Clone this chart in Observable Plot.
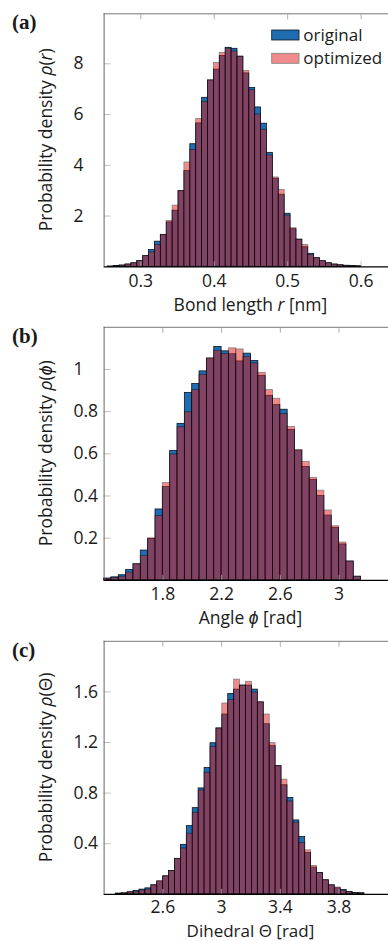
<!DOCTYPE html>
<html>
<head>
<meta charset="utf-8">
<script src="https://cdn.jsdelivr.net/npm/d3@7"></script>
<script src="https://cdn.jsdelivr.net/npm/@observablehq/plot@0.6"></script>
<style>
  html, body { margin: 0; padding: 0; background: #fff; }
  #wrap { width: 388px; overflow: hidden; }
  #wrap svg { display: block; overflow: hidden; }
</style>
</head>
<body>
<div id="wrap"></div>
<script>
// ---------- data ----------
// (a) bond length histogram
const aBinStart = 0.255, aBinWidth = 0.00803;
const aOriginal  = [0.01,0.03,0.05,0.09,0.14,0.23,0.42,0.66,0.99,1.25,1.75,2.21,2.98,3.77,4.83,5.65,6.66,7.34,7.77,8.31,8.63,8.59,8.28,7.62,7.05,6.28,5.64,4.49,3.47,2.84,2.09,1.48,1.07,0.77,0.51,0.34,0.22,0.14,0.09,0.06,0.04,0.03,0.02];
const aOptimized = [0.01,0.03,0.05,0.09,0.14,0.23,0.42,0.57,0.86,1.26,1.81,2.41,2.99,4.11,4.60,5.82,6.50,7.35,8.03,8.43,8.60,8.49,8.28,7.72,6.96,6.00,5.40,4.39,3.52,3.03,2.02,1.52,1.07,0.86,0.47,0.34,0.22,0.14,0.09,0.06,0.04,0.03,0.02];
const aXTicks = [0.3, 0.4, 0.5, 0.6];
const aYTicks = [2, 4, 6, 8];

// (b) angle histogram
const bBinStart = 1.40, bBinWidth = 0.05;
const bOriginal  = [0.008,0.014,0.024,0.049,0.076,0.141,0.196,0.336,0.442,0.613,0.742,0.889,0.931,0.991,1.051,1.107,1.086,1.072,1.038,1.075,1.040,0.970,0.875,0.831,0.809,0.713,0.615,0.537,0.476,0.400,0.307,0.249,0.170,0.089,0.017];
const bOptimized = [0.008,0.011,0.017,0.037,0.076,0.116,0.199,0.305,0.461,0.597,0.726,0.797,0.902,0.975,1.053,1.089,1.073,1.100,1.095,1.060,1.029,0.984,0.902,0.861,0.788,0.727,0.617,0.562,0.486,0.425,0.331,0.256,0.179,0.089,0.017];
const bXTicks = [1.8, 2.2, 2.6, 3];
const bYTicks = [0.2, 0.4, 0.6, 0.8, 1];

// (c) dihedral histogram
const cBinStart = 2.2798, cBinWidth = 0.0403;
const cOriginal  = [0.005,0.007,0.016,0.026,0.037,0.047,0.071,0.100,0.142,0.184,0.280,0.391,0.539,0.681,0.837,0.998,1.194,1.311,1.421,1.584,1.618,1.650,1.650,1.618,1.517,1.344,1.171,1.013,0.862,0.761,0.584,0.453,0.326,0.211,0.168,0.111,0.071,0.047,0.034,0.018,0.011,0.008];
const cOptimized = [0.005,0.010,0.016,0.020,0.030,0.037,0.071,0.105,0.142,0.184,0.280,0.363,0.479,0.645,0.821,0.961,1.166,1.311,1.508,1.536,1.697,1.650,1.680,1.595,1.517,1.421,1.195,1.013,0.906,0.734,0.566,0.405,0.347,0.224,0.168,0.111,0.071,0.053,0.029,0.018,0.011,0.008];
const cXTicks = [2.6, 3, 3.4, 3.8];
const cYTicks = [0.4, 0.8, 1.2, 1.6];

const seriesNames = ["original", "optimized"];

// ---------- style ----------
const FONT = "'Open Sans', sans-serif";
const FS = 17.5;
const BLUE = "#1f6db0";
const RED = "#e31a1a";
const TICK = "#b0b0b0";
const TEXT = "#1a1a1a";

const panels = [
  { tag: "(a)", start: aBinStart, width: aBinWidth, orig: aOriginal, opt: aOptimized,
    xDomain: [0.25, 0.65], yDomain: [0, 9.97], xTicks: aXTicks, yTicks: aYTicks,
    xLabel: [["Bond length ", "normal"], ["r", "italic"], [" [nm]", "normal"]],
    yLabel: [["Probability density ", "normal"], ["ρ", "italic"], ["(", "normal"], ["r", "italic"], [")", "normal"]],
    legend: true, H: 320, MT: 13.3, MB: 53.7, labelDy: 44.5, labelFs: 17.5, tickPad: 7.5 },
  { tag: "(b)", start: bBinStart, width: bBinWidth, orig: bOriginal, opt: bOptimized,
    xDomain: [1.4, 3.4], yDomain: [0, 1.2], xTicks: bXTicks, yTicks: bYTicks,
    xLabel: [["Angle ", "normal"], ["ϕ", "italic"], [" [rad]", "normal"]],
    yLabel: [["Probability density ", "normal"], ["ρ", "italic"], ["(", "normal"], ["ϕ", "italic"], [")", "normal"]],
    legend: false, H: 313.5, MT: 6.8, MB: 53.7, labelDy: 44.5, labelFs: 17.5, tickPad: 7.5 },
  { tag: "(c)", start: cBinStart, width: cBinWidth, orig: cOriginal, opt: cOptimized,
    xDomain: [2.2, 4.2], yDomain: [0, 2.0], xTicks: cXTicks, yTicks: cYTicks,
    xLabel: [["Dihedral Θ [rad]", "normal"]],
    yLabel: [["Probability density ", "normal"], ["ρ", "italic"], ["(Θ)", "normal"]],
    legend: false, H: 307.5, MT: 6.8, MB: 47.7, labelDy: 43, labelFs: 17, tickPad: 6 }
];

const W = 388, ML = 103.6;
const XR = [103.6, 397.3];

function bins(values, start, width) {
  return values.map((h, i) => ({ x1: start + i * width, x2: start + (i + 1) * width, h }));
}

function addText(sel, parts) {
  parts.forEach(([t, st]) => sel.append("tspan").attr("font-style", st).text(t));
}

const wrap = document.getElementById("wrap");

panels.forEach(p => {
  const svg = Plot.plot({
    width: W, height: p.H,
    marginTop: p.MT, marginBottom: p.MB, marginLeft: ML, marginRight: 0,
    style: { fontFamily: FONT, fontSize: FS + "px", color: TEXT, background: "white", overflow: "hidden" },
    x: { domain: p.xDomain, range: XR },
    y: { domain: p.yDomain },
    marks: [
      Plot.rectY(bins(p.orig, p.start, p.width), { x1: "x1", x2: "x2", y: "h", fill: BLUE, stroke: "#0a1420", strokeWidth: 0.8 }),
      Plot.rectY(bins(p.opt, p.start, p.width), { x1: "x1", x2: "x2", y: "h", fill: RED, stroke: "#000", strokeWidth: 0.8, opacity: 0.5 }),
      // inward tick marks
      Plot.axisX(p.xTicks, { anchor: "bottom", tickSize: -5, fill: "none", stroke: TICK, strokeOpacity: 0.8, label: null }),
      Plot.axisX(p.xTicks, { anchor: "top", tickSize: -5, fill: "none", stroke: TICK, label: null }),
      Plot.axisY(p.yTicks, { anchor: "left", tickSize: -7, fill: "none", stroke: TICK, strokeOpacity: 0.8, label: null }),
      // tick labels
      Plot.axisX(p.xTicks, { anchor: "bottom", tickSize: 0, tickPadding: p.tickPad, stroke: "none", fill: TEXT, tickFormat: d => String(d), fontSize: FS, label: null }),
      Plot.axisY(p.yTicks, { anchor: "left", tickSize: 0, tickPadding: 30.6, textAnchor: "start", stroke: "none", fill: TEXT, tickFormat: d => String(d), fontSize: FS, label: null }),
      // frame lines
      Plot.ruleY([p.yDomain[1]], { stroke: "#777", strokeWidth: 1 }),
      Plot.ruleX([p.xDomain[0]], { stroke: "#666", strokeWidth: 1 }),
      Plot.ruleY([0], { stroke: "#000", strokeWidth: 1.3 })
    ]
  });

  const s = d3.select(svg);
  const yBottom = p.H - p.MB;
  // x label
  const xl = s.append("text")
    .attr("x", (XR[0] + XR[1]) / 2).attr("y", yBottom + p.labelDy)
    .attr("text-anchor", "middle").attr("fill", TEXT)
    .attr("font-family", FONT).attr("font-size", p.labelFs);
  addText(xl, p.xLabel);
  // y label
  const yl = s.append("text")
    .attr("transform", `translate(52,${(p.MT + yBottom) / 2}) rotate(-90)`)
    .attr("text-anchor", "middle").attr("fill", TEXT)
    .attr("font-family", FONT).attr("font-size", FS);
  addText(yl, p.yLabel);
  // panel tag
  s.append("text").attr("x", 12).attr("y", p.MT + 16)
    .attr("text-anchor", "start")
    .attr("font-family", "'Liberation Serif', serif").attr("font-weight", "bold")
    .attr("font-size", 21).attr("fill", TEXT).text(p.tag);

  if (p.legend) {
    const lg = s.append("g");
    const items = [
      { name: seriesNames[0], fill: BLUE, stroke: "#0a1420", op: 1, y: 30 },
      { name: seriesNames[1], fill: RED, stroke: "#000", op: 0.5, y: 53.3 }
    ];
    items.forEach(it => {
      lg.append("rect").attr("x", 271.7).attr("y", it.y).attr("width", 27.3).attr("height", 10)
        .attr("fill", it.fill).attr("stroke", it.stroke).attr("stroke-width", 0.8).attr("opacity", it.op);
      lg.append("text").attr("x", 303.3).attr("y", it.y + 10.6)
        .attr("text-anchor", "start")
        .attr("font-family", FONT).attr("font-size", 17).attr("fill", TEXT).text(it.name);
    });
  }

  wrap.appendChild(svg);
});
</script>
</body>
</html>
